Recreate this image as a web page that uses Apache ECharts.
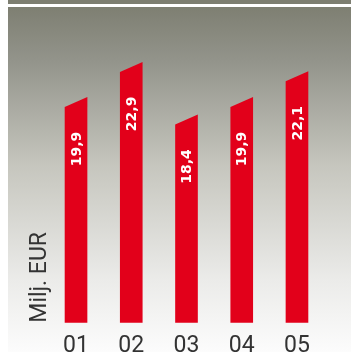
<!DOCTYPE html>
<html><head><meta charset="utf-8">
<script src="https://cdn.jsdelivr.net/npm/echarts@6/dist/echarts.min.js"></script>
<style>html,body{margin:0;padding:0;background:#fff}#c{width:351px;height:352px}</style>
</head><body><div id="c"></div>
<script>
const categories = ['01', '02', '03', '04', '05'];
const values = [19.9, 22.9, 18.4, 19.9, 22.1];
const valueLabels = ['19,9', '22,9', '18,4', '19,9', '22,1'];
const axisName = 'Milj. EUR';

const chart = echarts.init(document.getElementById('c'), null, {renderer: 'canvas'});
chart.setOption({
  animation: false,
  graphic: [
    {type: 'rect', z: -10, shape: {x: 8, y: 0, width: 343, height: 4}, style: {fill: '#7d7e71'}},
    {type: 'rect', z: -10, shape: {x: 8, y: 7, width: 343, height: 345},
      style: {fill: new echarts.graphic.LinearGradient(0, 0, 0, 1, [
        {offset: 0, color: '#7e7f72'},
        {offset: 0.15, color: '#92938a'},
        {offset: 0.46, color: '#c6c6be'},
        {offset: 0.79, color: '#ebebe9'},
        {offset: 1, color: '#fcfcfc'}
      ])}}
  ],
  grid: {left: 48.4, right: 26.4, top: 7.3, bottom: 29.3, containLabel: false, outerBoundsMode: 'none'},
  xAxis: {
    type: 'category', data: categories,
    axisLine: {show: false}, axisTick: {show: false},
    axisLabel: {color: '#333', fontSize: 23, fontFamily: 'Roboto', margin: 12}
  },
  yAxis: {
    type: 'value', min: 1, max: 28, offset: 8,
    axisLine: {show: false}, axisTick: {show: false}, axisLabel: {show: false}, splitLine: {show: false},
    name: axisName, nameLocation: 'start', nameRotate: 90, nameGap: 0,
    nameTextStyle: {color: '#333', fontSize: 23, fontFamily: 'Roboto', align: 'left', verticalAlign: 'middle'}
  },
  series: [{
    type: 'custom',
    data: values.map((v, i) => [i, v]),
    renderItem: function (params, api) {
      const i = api.value(0), v = api.value(1);
      const top = api.coord([i, v]);
      const base = api.coord([i, 1]);
      const w = api.size([1, 0])[0] * 0.41;
      const x = top[0];
      return {
        type: 'group',
        children: [
          {type: 'polygon', shape: {points: [[x - w / 2, top[1] + 5], [x + w / 2, top[1] - 5], [x + w / 2, base[1]], [x - w / 2, base[1]]]},
            style: {fill: '#e2001a'}},
          {type: 'text', x: x + 1, y: top[1] + 47, rotation: Math.PI / 2,
            style: {text: valueLabels[params.dataIndex], fill: '#fff', font: 'bold 14px "DejaVu Sans"', align: 'center', verticalAlign: 'middle'}}
        ]
      };
    }
  }]
});
</script></body></html>
